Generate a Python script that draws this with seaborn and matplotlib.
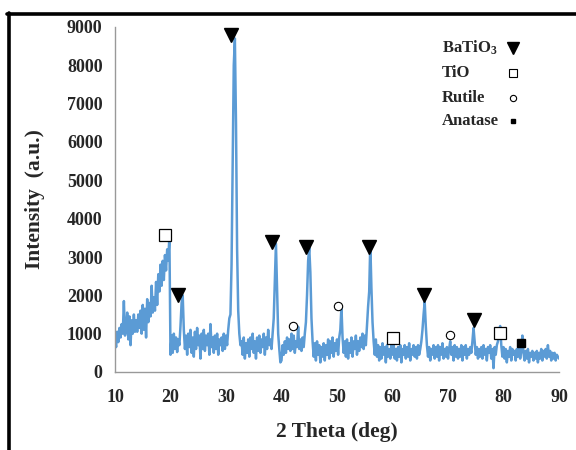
import numpy as np
import pandas as pd
import matplotlib
matplotlib.use("Agg")
import matplotlib.pyplot as plt
from matplotlib.lines import Line2D
import seaborn as sns

# ---- data (0.2 deg steps, 10..90 deg) ----
rows = [
    [850, 650, 1050, 780, 1150, 900, 1250, 1000, 1850, 950],      # 10
    [1100, 1550, 850, 1450, 700, 1350, 1000, 1500, 1050, 1350],   # 12
    [1050, 1500, 1150, 1600, 1000, 1750, 1100, 1650, 900, 1900],  # 14
    [1300, 1800, 1450, 2250, 1550, 1950, 1600, 2350, 1750, 2550], # 16
    [2100, 2800, 2250, 2900, 2400, 3050, 2650, 3200, 2900, 3550], # 18
    [450, 950, 500, 1000, 600, 900, 520, 850, 700, 1200],         # 20
    [1800, 2000, 1100, 600, 950, 450, 1000, 650, 1100, 500],      # 22
    [900, 400, 1050, 600, 1150, 700, 950, 350, 1000, 600],        # 24
    [1100, 550, 950, 700, 1000, 450, 1250, 650, 900, 500],        # 26
    [950, 600, 1000, 450, 850, 700, 900, 550, 1000, 600],         # 28
    [950, 700, 1100, 1400, 1500, 2800, 5500, 8000, 8700, 6500],   # 30
    [3200, 1600, 1000, 700, 800, 450, 900, 350, 750, 500],        # 32
    [850, 400, 900, 600, 1000, 500, 800, 350, 900, 550],          # 34
    [950, 500, 850, 650, 1000, 450, 900, 600, 1100, 700],         # 36
    [850, 600, 1000, 1400, 2400, 3350, 2200, 1000, 600, 250],     # 38
    [300, 700, 450, 800, 500, 900, 600, 850, 550, 1000],          # 40
    [600, 950, 500, 800, 650, 1180, 600, 850, 550, 900],          # 42
    [650, 1000, 1300, 2000, 2900, 3250, 2600, 1400, 800, 400],    # 44
    [750, 300, 800, 450, 700, 250, 650, 400, 750, 300],           # 46
    [700, 450, 850, 350, 800, 500, 900, 400, 750, 550],           # 48
    [850, 450, 900, 1100, 1700, 900, 500, 800, 400, 850],         # 50
    [350, 750, 500, 900, 400, 800, 600, 950, 450, 800],           # 52
    [550, 900, 650, 1000, 600, 950, 700, 1200, 1700, 2100],       # 54
    [3350, 2200, 1300, 800, 450, 850, 400, 700, 300, 650],        # 56
    [350, 750, 450, 650, 250, 700, 400, 600, 350, 700],           # 58
    [450, 750, 350, 600, 300, 650, 400, 700, 250, 600],           # 60
    [450, 700, 350, 650, 400, 750, 300, 600, 450, 700],           # 62
    [400, 650, 350, 700, 450, 600, 800, 1100, 1500, 1830],        # 64
    [1200, 700, 400, 650, 300, 600, 450, 700, 350, 650],          # 66
    [400, 700, 300, 650, 450, 750, 350, 600, 400, 650],           # 68
    [350, 600, 800, 450, 650, 300, 700, 400, 650, 350],           # 70
    [600, 400, 700, 300, 650, 450, 700, 350, 600, 450],           # 72
    [650, 500, 800, 1150, 800, 450, 650, 350, 600, 400],          # 74
    [650, 350, 700, 450, 600, 300, 650, 500, 700, 350],           # 76
    [600, 100, 650, 450, 700, 800, 1050, 1200, 700, 400],         # 78
    [650, 350, 600, 250, 550, 400, 650, 300, 600, 450],           # 80
    [550, 300, 600, 400, 650, 350, 550, 950, 500, 300],           # 82
    [550, 350, 600, 250, 500, 400, 550, 300, 500, 350],           # 84
    [550, 250, 500, 350, 600, 300, 550, 400, 600, 350],           # 86
    [700, 400, 550, 300, 500, 350, 500, 300, 450, 400],           # 88
]
intensity = [v for r in rows for v in r] + [350]
two_theta = np.linspace(10, 90, len(intensity))

# phase marker positions (2theta, intensity)
batio3_x = [21.3, 30.9, 38.2, 44.4, 55.8, 65.7, 74.7]
batio3_y = [2010, 8800, 3400, 3270, 3270, 2010, 1360]
tio_x = [19.0, 60.0, 79.4]
tio_y = [3580, 880, 1010]
rutile_x = [42.0, 50.1, 70.4]
rutile_y = [1210, 1720, 965]
anatase_x = [83.2]
anatase_y = [750]

legend_labels = ["BaTiO$_3$", "TiO", "Rutile", "Anatase"]
x_ticks = [10, 20, 30, 40, 50, 60, 70, 80, 90]
y_ticks = [0, 1000, 2000, 3000, 4000, 5000, 6000, 7000, 8000, 9000]

# ---- plotting ----
sns.set_style("white")
plt.rcParams['font.family'] = ['Liberation Serif', 'DejaVu Serif']
plt.rcParams['font.weight'] = 'bold'
plt.rcParams['mathtext.fontset'] = 'custom'
plt.rcParams['mathtext.rm'] = 'Liberation Serif:bold'
plt.rcParams['mathtext.it'] = 'Liberation Serif:bold'
plt.rcParams['mathtext.bf'] = 'Liberation Serif:bold'

W, H = 576, 450
fig = plt.figure(figsize=(W / 100, H / 100), dpi=100)
ax = fig.add_axes([115 / W, 1 - 372 / H, 444 / W, 345 / H])

df = pd.DataFrame({"two_theta": two_theta, "intensity": intensity})
sns.lineplot(data=df, x="two_theta", y="intensity", ax=ax,
             color="#5B9BD5", linewidth=1.8, zorder=2)

mk = dict(linestyle="none", clip_on=False, zorder=3)
ax.plot(batio3_x, batio3_y, marker="v", color="black", markersize=10, **mk)
ax.plot(tio_x, tio_y, marker="s", markerfacecolor="white", markeredgecolor="black",
        markersize=8, markeredgewidth=0.9, **mk)
ax.plot(rutile_x, rutile_y, marker="o", markerfacecolor="white", markeredgecolor="black",
        markersize=6, markeredgewidth=0.8, **mk)
ax.plot(anatase_x, anatase_y, marker="s", color="black", markersize=6, **mk)

# manual legend (text left-aligned, symbols in a column on the right)
leg_y = [48, 73, 98, 121]
leg_styles = [
    dict(marker="v", color="black", markersize=9),
    dict(marker="s", markerfacecolor="white", markeredgecolor="black",
         markersize=5.5, markeredgewidth=0.8),
    dict(marker="o", markerfacecolor="white", markeredgecolor="black",
         markersize=4.5, markeredgewidth=0.8),
    dict(marker="s", color="black", markersize=3.5),
]
for lab, yy, st in zip(legend_labels, leg_y, leg_styles):
    fig.text(442 / W, 1 - yy / H, lab, ha="left", va="center",
             fontsize=12, fontweight="bold")
    fig.add_artist(Line2D([513 / W], [1 - yy / H], linestyle="none",
                          transform=fig.transFigure, **st))

ax.set_xlim(10, 90)
ax.set_ylim(0, 9000)
ax.set_xticks(x_ticks)
ax.set_yticks(y_ticks)
ax.set_xticklabels([str(t) for t in x_ticks], fontsize=13, fontweight="bold")
ax.set_yticklabels([str(t) for t in y_ticks], fontsize=13, fontweight="bold")
ax.tick_params(axis="both", direction="out", length=5, width=1, color="#999999")
ax.tick_params(axis="x", pad=7)
ax.tick_params(axis="y", pad=4)

for s in ["top", "right"]:
    ax.spines[s].set_visible(False)
for s in ["left", "bottom"]:
    ax.spines[s].set_color("#999999")
    ax.spines[s].set_linewidth(1)

ax.set_xlabel("2 Theta (deg)", fontsize=15.5, fontweight="bold", labelpad=12)
ax.set_ylabel("Intensity  (a.u.)", fontsize=15.5, fontweight="bold", labelpad=16)

# outer frame lines (top and left)
fig.add_artist(Line2D([7 / W, 1.0], [1 - 13.5 / H, 1 - 13.5 / H],
                      color="black", linewidth=2.6, transform=fig.transFigure))
fig.add_artist(Line2D([9 / W, 9 / W], [1 - 12.5 / H, 0.0],
                      color="black", linewidth=2.6, transform=fig.transFigure))

fig.savefig("out.png", dpi=100)
